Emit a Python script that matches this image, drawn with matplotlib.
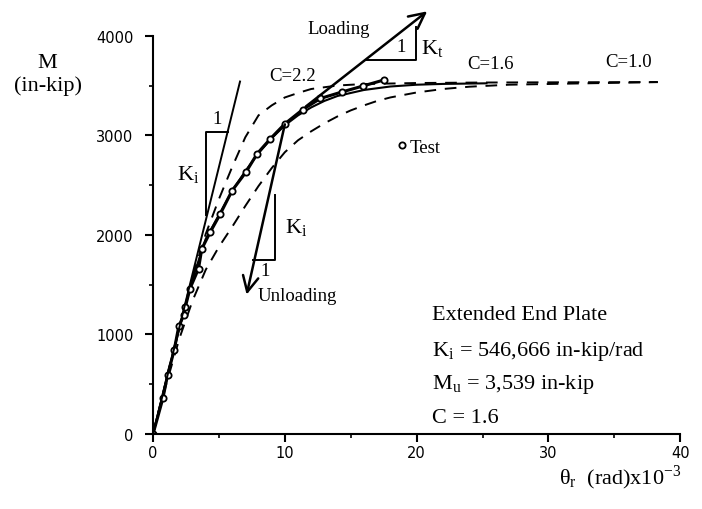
import matplotlib
matplotlib.use("Agg")
import matplotlib.pyplot as plt
from matplotlib.ticker import MultipleLocator

plt.rcParams["mathtext.fontset"] = "stix"

SERIF = "Liberation Serif"
SANS = "DejaVu Sans"

# test data, rotation (rad x 10^-3) vs moment (in-kip)
test_theta = [0, 0.75, 1.1, 1.6, 1.95, 2.35, 2.45, 2.8, 3.45, 3.7, 4.35, 5.1,
              6.0, 7.05, 7.9, 8.9, 10.0, 11.35, 12.7, 14.3, 15.9, 17.5]
test_m = [0, 360, 590, 840, 1080, 1200, 1275, 1460, 1660, 1860, 2030, 2210,
          2445, 2630, 2815, 2965, 3115, 3258, 3370, 3434, 3494, 3555]

# model curves
c16_theta = [0, 1, 2, 3, 4, 5, 6, 7, 8, 9, 10, 11, 12, 13, 14, 16, 18, 20, 22, 25.3]
c16_m = [0, 540, 1060, 1560, 1960, 2200, 2440, 2640, 2820, 2970, 3100, 3200,
         3280, 3345, 3395, 3455, 3490, 3508, 3516, 3522]

c22_theta = [0, 1, 2, 3, 4, 5, 6, 7, 8, 9, 10, 11, 12, 14, 16, 20, 25, 38.3]
c22_m = [0, 545, 1080, 1580, 2010, 2360, 2680, 2980, 3200, 3300, 3380, 3425,
         3465, 3500, 3515, 3525, 3530, 3535]

c10_theta = [0, 1, 2, 3, 4, 5, 6, 7, 8, 9, 10, 11, 12, 13, 14, 15, 16, 17, 18,
             20, 22, 24, 27, 32, 38.3]
c10_m = [0, 500, 960, 1340, 1650, 1880, 2080, 2290, 2490, 2670, 2830, 2950,
         3040, 3120, 3190, 3250, 3300, 3345, 3380, 3430, 3465, 3488, 3508,
         3520, 3534]

# initial stiffness line and its triangle
ki_line_theta = [0, 6.6]
ki_line_m = [0, 3540]
ki_tri_theta = [4.0, 4.0, 5.67]
ki_tri_m = [2200, 3032, 3032]

# unloading line and triangle
unload_start = (10.0, 3110)
unload_tip = (7.1, 1400)
un_tri_theta = [9.25, 9.25, 7.6]
un_tri_m = [2400, 1750, 1750]

# loading (tangent) line and triangle
load_start = (11.6, 3290)
load_tip = (20.8, 4245)
kt_tri_theta = [16.24, 19.92, 19.92]
kt_tri_m = [3752, 3752, 4087]

fig = plt.figure(figsize=(7.02, 5.10), dpi=100)
ax = fig.add_axes([0.218, 0.147, 0.751, 0.781])

dash = (0, (6, 4.5))
ax.plot(c10_theta, c10_m, color="black", lw=1.4, linestyle=dash)
ax.plot(c22_theta, c22_m, color="black", lw=1.4, linestyle=dash)
ax.plot(c16_theta, c16_m, color="black", lw=1.5)
ax.plot(test_theta, test_m, color="black", lw=2.2, marker="o", ms=4.5,
        mfc="white", mec="black", mew=1.3)

ax.plot(ki_line_theta, ki_line_m, color="black", lw=1.4)
ax.plot(ki_tri_theta, ki_tri_m, color="black", lw=1.4)
ax.plot(un_tri_theta, un_tri_m, color="black", lw=1.4)
ax.plot(kt_tri_theta, kt_tri_m, color="black", lw=1.4, clip_on=False)

arrow = dict(arrowstyle="->", lw=1.8, color="black", mutation_scale=28,
             shrinkA=0, shrinkB=0)
ax.annotate("", xy=load_tip, xytext=load_start, arrowprops=arrow,
            annotation_clip=False)
ax.annotate("", xy=unload_tip, xytext=unload_start, arrowprops=arrow,
            annotation_clip=False)

ax.set_xlim(0, 40)
ax.set_ylim(0, 4000)
ax.xaxis.set_major_locator(MultipleLocator(10))
ax.xaxis.set_minor_locator(MultipleLocator(5))
ax.yaxis.set_major_locator(MultipleLocator(1000))
ax.yaxis.set_minor_locator(MultipleLocator(500))
for s in ["top", "right"]:
    ax.spines[s].set_visible(False)
for s in ["left", "bottom"]:
    ax.spines[s].set_linewidth(1.5)
ax.tick_params(which="major", length=6, width=1.5, labelsize=10.5)
ax.tick_params(axis="x", which="major", pad=2)
ax.tick_params(axis="y", which="major", pad=8)
ax.tick_params(which="minor", length=3, width=1.2)
for lab in ax.get_xticklabels() + ax.get_yticklabels():
    lab.set_fontfamily(SANS)

txt = dict(family=SERIF, fontsize=13.5, color="black")
big = dict(family=SERIF, fontsize=16, color="black")
fig.text(47 / 702, 1 - 63 / 510, "M", ha="center", va="center", **big)
fig.text(48 / 702, 1 - 86 / 510, "(in-kip)", ha="center", va="center", **big)
fig.text(681 / 702, 1 - 478 / 510,
         r"$\mathregular{\theta_r}$  (rad)x10$^\mathregular{-3}$",
         ha="right", va="center", **big)

ax.text(14.1, 4070, "Loading", ha="center", va="center", **txt)
ax.text(18.8, 3890, "1", ha="center", va="center", **txt)
ax.text(21.2, 3880, r"K$_\mathregular{t}$", ha="center", va="center", **big)
ax.text(10.55, 3600, "C=2.2", ha="center", va="center", **txt)
ax.text(25.6, 3720, "C=1.6", ha="center", va="center", **txt)
ax.text(36.1, 3740, "C=1.0", ha="center", va="center", **txt)
ax.text(4.85, 3170, "1", ha="center", va="center", **txt)
ax.text(2.65, 2620, r"K$_\mathregular{i}$", ha="center", va="center", **big)
ax.text(10.9, 2080, r"K$_\mathregular{i}$", ha="center", va="center", **big)
ax.text(8.5, 1640, "1", ha="center", va="center", **txt)
ax.text(10.95, 1390, "Unloading", ha="center", va="center", **txt)

ax.plot([18.9], [2900], marker="o", ms=4.5, mfc="white", mec="black", mew=1.3,
        linestyle="none")
ax.text(19.5, 2880, "Test", ha="left", va="center", **txt)

x0 = 21.2
ax.text(x0, 1196, "Extended End Plate", ha="left", va="center", **big)
ax.text(x0, 834, r"K$_\mathregular{i}$ = 546,666 in-kip/rad", ha="left",
        va="center", **big)
ax.text(x0, 503, r"M$_\mathregular{u}$ = 3,539 in-kip", ha="left", va="center",
        **big)
ax.text(x0, 171, "C = 1.6", ha="left", va="center", **big)

fig.savefig("out.png", dpi=100)
